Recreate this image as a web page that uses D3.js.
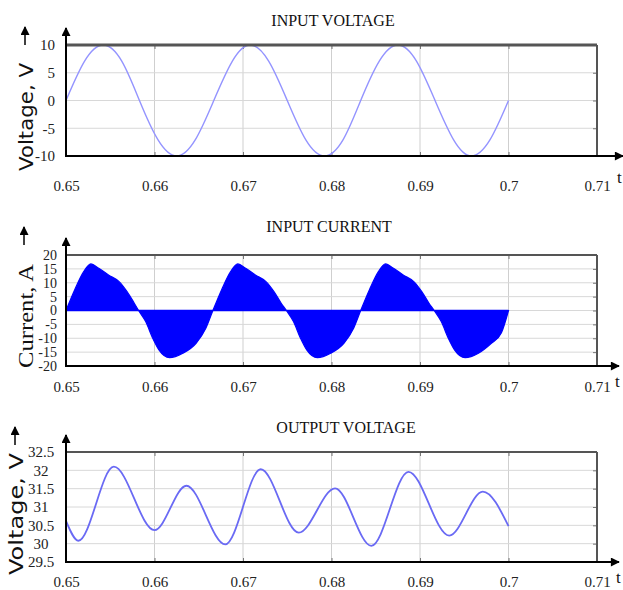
<!DOCTYPE html>
<html>
<head>
<meta charset="utf-8">
<script src="https://cdn.jsdelivr.net/npm/d3@7"></script>
<style>
  body { margin: 0; background: #fff; }
  svg { display: block; }
</style>
</head>
<body>
<div id="chart"></div>
<script>
// ---- data ----
const xTicks = [0.65, 0.66, 0.67, 0.68, 0.69, 0.70, 0.71];
const xTickLabels = ["0.65", "0.66", "0.67", "0.68", "0.69", "0.7", "0.71"];

const vinTicks = [-10, -5, 0, 5, 10];
const iinTicks = [-20, -15, -10, -5, 0, 5, 10, 15, 20];
const voutTicks = [29.5, 30, 30.5, 31, 31.5, 32, 32.5];

// input voltage (sampled every 1/8 cycle)
const vinT = [0.6500, 0.6521, 0.6542, 0.6563, 0.6583, 0.6604, 0.6625, 0.6646, 0.6667,
              0.6688, 0.6708, 0.6729, 0.6750, 0.6771, 0.6792, 0.6813, 0.6833,
              0.6854, 0.6875, 0.6896, 0.6917, 0.6938, 0.6958, 0.6979, 0.7000];
const vinV = [0, 7.1, 10, 7.1, 0, -7.1, -10, -7.1, 0,
              7.1, 10, 7.1, 0, -7.1, -10, -7.1, 0,
              7.1, 10, 7.1, 0, -7.1, -10, -7.1, 0];

// input current envelope
const iinT = [0.6500, 0.6510, 0.6520, 0.6528, 0.6537, 0.6548, 0.6560, 0.6569, 0.6577, 0.6582,
              0.6590, 0.6598, 0.6605, 0.6617, 0.6632, 0.6647, 0.6658, 0.6666,
              0.6676, 0.6686, 0.6694, 0.6703, 0.6714, 0.6726, 0.6735, 0.6743, 0.6749,
              0.6757, 0.6765, 0.6772, 0.6784, 0.6799, 0.6814, 0.6825, 0.6833,
              0.6843, 0.6853, 0.6861, 0.6870, 0.6881, 0.6893, 0.6902, 0.6910, 0.6916,
              0.6924, 0.6932, 0.6939, 0.6951, 0.6966, 0.6980, 0.6992, 0.7000];
const iinV = [0, 7.6, 14.0, 16.8, 15.2, 12.8, 10.4, 6.8, 2.7, 0,
              -4.0, -10.0, -14.2, -17.0, -15.4, -11.8, -6.4, 0,
              7.6, 14.0, 16.8, 15.2, 12.8, 10.4, 6.8, 2.7, 0,
              -4.0, -10.0, -14.2, -17.0, -15.4, -11.8, -6.4, 0,
              7.6, 14.0, 16.8, 15.2, 12.8, 10.4, 6.8, 2.7, 0,
              -4.0, -10.0, -14.2, -17.0, -15.4, -12.0, -8.0, 0];

// output voltage (turning points)
const voutT = [0.6500, 0.6514, 0.6554, 0.6600, 0.6636, 0.6680, 0.6720, 0.6763,
               0.6804, 0.6845, 0.6887, 0.6933, 0.6971, 0.7000];
const voutV = [30.62, 30.08, 32.10, 30.37, 31.58, 29.98, 32.03, 30.30,
               31.51, 29.94, 31.96, 30.22, 31.42, 30.48];

// ---- drawing ----
const W = 623, H = 590;
const X0 = 66, X1 = 597;
const serif = "'Liberation Serif', 'Times New Roman', serif";
const sans = "'DejaVu Sans', Verdana, sans-serif";

const svg = d3.select("#chart").append("svg")
    .attr("width", W)
    .attr("height", H)
    .style("background", "#fff");

svg.append("defs").append("marker")
    .attr("id", "arrow")
    .attr("viewBox", "0 0 10 10")
    .attr("refX", 9)
    .attr("refY", 5)
    .attr("markerUnits", "userSpaceOnUse")
    .attr("markerWidth", 11)
    .attr("markerHeight", 9)
    .attr("orient", "auto")
    .append("path")
    .attr("d", "M0,0 L10,5 L0,10 Z")
    .attr("fill", "#000");

const x = d3.scaleLinear().domain([0.65, 0.71]).range([X0, X1]);

function panel(o) {
    const y = d3.scaleLinear().domain(o.domain).range([o.bottom, o.top]);
    const g = svg.append("g");

    // grid
    g.append("g").selectAll("line")
        .data(xTicks.slice(1, -1))
        .join("line")
        .attr("x1", d => x(d)).attr("x2", d => x(d))
        .attr("y1", o.top).attr("y2", o.bottom)
        .attr("stroke", "#cfcfcf").attr("stroke-width", 1);
    g.append("g").selectAll("line")
        .data(o.ticks.slice(1, -1))
        .join("line")
        .attr("x1", X0).attr("x2", X1)
        .attr("y1", d => y(d)).attr("y2", d => y(d))
        .attr("stroke", "#d8d8d8").attr("stroke-width", 1);

    // small inner ticks on right, top and bottom
    g.append("g")
        .attr("transform", `translate(${X1},0)`)
        .call(d3.axisRight(y).tickValues(o.ticks).tickSize(-4).tickFormat(""))
        .call(s => s.select(".domain").remove())
        .call(s => s.selectAll("line").attr("stroke", "#777"));
    g.append("g")
        .attr("transform", `translate(0,${o.bottom})`)
        .call(d3.axisBottom(x).tickValues(xTicks).tickSize(-4).tickFormat(""))
        .call(s => s.select(".domain").remove())
        .call(s => s.selectAll("line").attr("stroke", "#777"));
    g.append("g")
        .attr("transform", `translate(0,${o.top})`)
        .call(d3.axisTop(x).tickValues(xTicks).tickSize(-4).tickFormat(""))
        .call(s => s.select(".domain").remove())
        .call(s => s.selectAll("line").attr("stroke", "#777"));

    o.draw(g, y);

    // frame
    g.append("line")
        .attr("x1", X0).attr("x2", X1).attr("y1", o.top).attr("y2", o.top)
        .attr("stroke", "#555").attr("stroke-width", o.topWidth);
    g.append("line")
        .attr("x1", X1).attr("x2", X1).attr("y1", o.top).attr("y2", o.bottom)
        .attr("stroke", "#555").attr("stroke-width", 2);
    g.append("line")
        .attr("x1", X0).attr("x2", X0).attr("y1", o.bottom + 1).attr("y2", o.top - 17)
        .attr("stroke", "#000").attr("stroke-width", 2)
        .attr("marker-end", "url(#arrow)");
    g.append("line")
        .attr("x1", X0 - 1).attr("x2", o.arrowRight).attr("y1", o.bottom).attr("y2", o.bottom)
        .attr("stroke", "#000").attr("stroke-width", 2)
        .attr("marker-end", "url(#arrow)");

    // tick labels
    g.append("g")
        .attr("transform", `translate(${X0},0)`)
        .call(d3.axisLeft(y).tickValues(o.ticks).tickSize(0).tickPadding(o.yPad)
            .tickFormat(d => o.tickText(d)))
        .call(s => s.select(".domain").remove())
        .call(s => s.selectAll("text")
            .attr("font-family", serif).attr("font-size", o.yFont).attr("fill", "#222")
            .attr("text-anchor", o.yAnchor || "end"));
    g.append("g")
        .attr("transform", `translate(0,${o.bottom})`)
        .call(d3.axisBottom(x).tickValues(xTicks).tickSize(0).tickPadding(o.xPad)
            .tickFormat((d, i) => xTickLabels[i]))
        .call(s => s.select(".domain").remove())
        .call(s => s.selectAll("text")
            .attr("font-family", serif).attr("font-size", 15).attr("fill", "#222"));

    // title
    g.append("text")
        .attr("x", o.titleX).attr("y", o.titleY)
        .attr("text-anchor", "middle")
        .attr("font-family", serif).attr("font-size", 16).attr("fill", "#111")
        .text(o.title);

    // t label
    g.append("text")
        .attr("x", o.tX).attr("y", o.tY)
        .attr("font-family", serif).attr("font-size", 17).attr("fill", "#111")
        .text("t");

    // y label with arrow
    g.append("text")
        .attr("transform", `translate(${o.labelX},${o.labelY}) rotate(-90)`)
        .attr("text-anchor", "middle")
        .attr("font-family", o.labelFont).attr("font-size", o.labelSize)
        .attr("textLength", o.labelLen).attr("lengthAdjust", "spacingAndGlyphs")
        .attr("fill", "#111")
        .text(o.label);
    g.append("line")
        .attr("x1", o.arrowX).attr("x2", o.arrowX).attr("y1", o.arrowTip + 18).attr("y2", o.arrowTip)
        .attr("stroke", "#000").attr("stroke-width", 1.5)
        .attr("marker-end", "url(#arrow)");
}

// INPUT VOLTAGE
panel({
    top: 45, bottom: 156, domain: [-10, 10], ticks: vinTicks, topWidth: 3,
    tickText: d => String(d), yPad: 11, yFont: 15, xPad: 24, arrowRight: 623,
    title: "INPUT VOLTAGE", titleX: 333, titleY: 26, tX: 617, tY: 183,
    label: "Voltage, V", labelFont: sans, labelSize: 20, labelLen: 108,
    labelX: 33, labelY: 117, arrowX: 25, arrowTip: 27,
    draw: (g, y) => {
        const pts = vinT.map((t, i) => [t, vinV[i]]);
        g.append("path")
            .datum(pts)
            .attr("fill", "none")
            .attr("stroke", "#9494ff")
            .attr("stroke-width", 1.4)
            .attr("d", d3.line().x(d => x(d[0])).y(d => y(d[1])).curve(d3.curveNatural));
    }
});

// INPUT CURRENT
panel({
    top: 255, bottom: 366, domain: [-20, 20], ticks: iinTicks, topWidth: 2,
    tickText: d => String(d), yPad: 9, yFont: 14, xPad: 15, arrowRight: 619,
    title: "INPUT CURRENT", titleX: 329, titleY: 232, tX: 615, tY: 387,
    label: "Current, A", labelFont: serif, labelSize: 21, labelLen: 104,
    labelX: 33, labelY: 316, arrowX: 24, arrowTip: 227,
    draw: (g, y) => {
        const pts = iinT.map((t, i) => [t, iinV[i]]);
        g.append("path")
            .datum(pts)
            .attr("fill", "#0000ff")
            .attr("stroke", "#0000ff")
            .attr("stroke-width", 1.2)
            .attr("d", d3.area().x(d => x(d[0])).y0(y(0)).y1(d => y(d[1])).curve(d3.curveMonotoneX));
        g.append("line")
            .attr("x1", x(0.65)).attr("x2", x(0.70))
            .attr("y1", y(0)).attr("y2", y(0))
            .attr("stroke", "#0000ff").attr("stroke-width", 1.5);
    }
});

// OUTPUT VOLTAGE
panel({
    top: 452, bottom: 562, domain: [29.5, 32.5], ticks: voutTicks, topWidth: 2,
    tickText: d => String(d), yPad: 25, yFont: 15, yAnchor: "middle", xPad: 14, arrowRight: 619,
    title: "OUTPUT VOLTAGE", titleX: 346, titleY: 433, tX: 616, tY: 583,
    label: "Voltage, V", labelFont: sans, labelSize: 20, labelLen: 122,
    labelX: 23, labelY: 514, arrowX: 15, arrowTip: 427,
    draw: (g, y) => {
        const pts = voutT.map((t, i) => [t, voutV[i]]);
        g.append("path")
            .datum(pts)
            .attr("fill", "none")
            .attr("stroke", "#6a6af4")
            .attr("stroke-width", 1.8)
            .attr("d", d3.line().x(d => x(d[0])).y(d => y(d[1])).curve(d3.curveMonotoneX));
    }
});
</script>
</body>
</html>
